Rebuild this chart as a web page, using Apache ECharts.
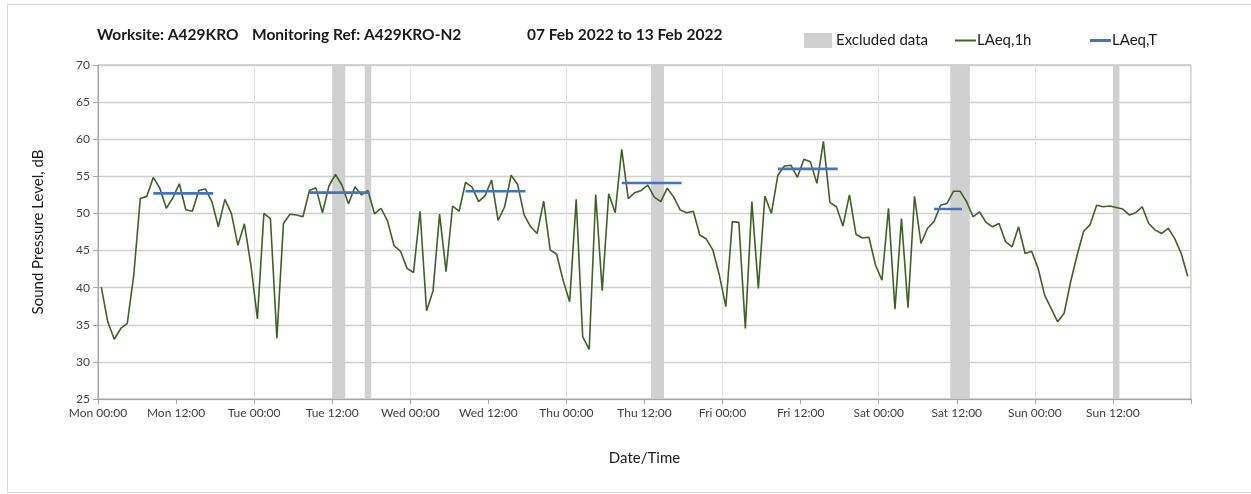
<!DOCTYPE html>
<html>
<head>
<meta charset="utf-8">
<script src="https://cdn.jsdelivr.net/npm/echarts@6/dist/echarts.min.js"></script>
<style>
  html, body { margin: 0; padding: 0; background: #ffffff; }
  #chart { width: 1251px; height: 494px; }
</style>
</head>
<body>
<div id="chart"></div>
<script>
// Day names used for the 12-hourly time labels (hours counted from Mon 00:00)
const dayNames = ['Mon', 'Tue', 'Wed', 'Thu', 'Fri', 'Sat', 'Sun'];

// Hourly LAeq,1h values (dB), one per hour starting Mon 00:00
const laeq1h = [
  40.1, 35.4, 33.05, 34.5, 35.2, 41.7, 52.0, 52.3, 54.85, 53.4, 50.7, 52.1,
  54.0, 50.5, 50.3, 53.1, 53.3, 51.6, 48.2, 51.9, 50.0, 45.7, 48.6, 43.05,
  35.8, 50.0, 49.3, 33.2, 48.65, 49.9, 49.8, 49.55, 53.1, 53.45, 50.1, 53.7,
  55.25, 53.8, 51.3, 53.6, 52.5, 53.1, 49.95, 50.7, 49.0, 45.65, 44.9, 42.6,
  42.05, 50.3, 36.9, 39.6, 49.9, 42.15, 51.0, 50.3, 54.2, 53.55, 51.6, 52.4,
  54.5, 49.05, 50.9, 55.15, 53.9, 49.8, 48.2, 47.3, 51.65, 45.1, 44.5, 40.95,
  38.1, 51.9, 33.4, 31.7, 52.55, 39.6, 52.65, 50.1, 58.65, 52.0, 52.8, 53.1,
  53.8, 52.2, 51.6, 53.4, 52.2, 50.45, 50.1, 50.3, 47.1, 46.55, 45.1, 41.7,
  37.45, 48.9, 48.8, 34.5, 51.6, 39.9, 52.35, 50.0, 55.15, 56.4, 56.5, 54.85,
  57.3, 56.95, 54.05, 59.7, 51.5, 50.9, 48.3, 52.5, 47.2, 46.7, 46.8, 43.05,
  41.0, 50.7, 37.1, 49.3, 37.3, 52.3, 45.95, 48.0, 48.9, 51.1, 51.35, 53.0,
  53.0, 51.6, 49.55, 50.2, 48.8, 48.2, 48.65, 46.2, 45.5, 48.2, 44.6, 44.9,
  42.6, 39.0, 37.2, 35.4, 36.55, 40.8, 44.4, 47.6, 48.5, 51.1, 50.9, 51.0,
  50.8, 50.6, 49.8, 50.1, 50.9, 48.65, 47.75, 47.3, 48.0, 46.6, 44.6, 41.5
];

// Period LAeq,T values (dB) with their start / end hours
const laeqTStart = [8.5, 32.5, 56.5, 80.5, 104.5, 128.5];
const laeqTEnd   = [17.7, 41.7, 65.7, 89.7, 113.7, 132.8];
const laeqT      = [52.7, 52.8, 53.0, 54.1, 56.0, 50.6];

// Excluded periods [start hour, end hour]
const excluded = [[36, 38], [41, 42], [85, 87], [131, 134], [156, 157]];

// Header parts
const titleParts = ['Worksite: A429KRO', 'Monitoring Ref: A429KRO-N2', '07 Feb 2022 to 13 Feb 2022'];
const titleLeft = [97, 252, 527];

const FONT = 'Lato, "Open Sans", sans-serif';

// Hourly points sit at the middle of each hour
const hourlyData = laeq1h.map((v, i) => [i + 0.5, v]);

// One broken line: each period drawn as its own segment
const periodData = [];
laeqT.forEach((v, k) => {
  periodData.push([laeqTStart[k], v], [laeqTEnd[k], v]);
  if (k < laeqT.length - 1) periodData.push([(laeqTEnd[k] + laeqTStart[k + 1]) / 2, '-']);
});

const excludedAreas = excluded.map(([a, b]) => [{ xAxis: a }, { xAxis: b }]);

function timeLabel(v) {
  if (v >= 168) return '';
  const day = dayNames[Math.floor(v / 24)];
  const hr = v % 24 === 0 ? '00:00' : '12:00';
  return day + ' ' + hr;
}

const chart = echarts.init(document.getElementById('chart'), null, { renderer: 'canvas' });

const legendText = { fontFamily: FONT, fontSize: 15, color: '#1a1a1a' };

chart.setOption({
  backgroundColor: '#ffffff',
  animation: false,
  title: titleParts.map((t, k) => ({
    text: t,
    left: titleLeft[k],
    top: 27,
    padding: 0,
    textStyle: { fontFamily: FONT, fontSize: 15.5, fontWeight: 'bold', color: '#1a1a1a' }
  })),
  legend: [
    {
      left: 799, top: 28,
      data: [{ name: 'Excluded data', icon: 'rect' }],
      itemWidth: 28, itemHeight: 15, itemGap: 0,
      textStyle: Object.assign({}, legendText, { padding: [0, 0, 0, -1] })
    },
    {
      left: 950, top: 28,
      data: [{ name: 'LAeq,1h', icon: 'rect' }],
      itemWidth: 21, itemHeight: 2,
      textStyle: Object.assign({}, legendText, { padding: [0, 0, 0, -4] })
    },
    {
      left: 1085, top: 28,
      data: [{ name: 'LAeq,T', icon: 'rect' }],
      itemWidth: 21, itemHeight: 3,
      textStyle: Object.assign({}, legendText, { padding: [0, 0, 0, -4] })
    }
  ],
  graphic: [{
    type: 'rect',
    shape: { x: 7.5, y: 4.5, width: 1250, height: 488 },
    style: { fill: 'none', stroke: '#d9d9d9', lineWidth: 1 },
    silent: true
  }],
  grid: {
    left: 98, right: 60, top: 65, bottom: 95,
    show: true, borderColor: '#a6a6a6', borderWidth: 1, backgroundColor: 'transparent'
  },
  xAxis: [
    {
      type: 'value', min: 0, max: 168, interval: 12,
      name: 'Date/Time', nameLocation: 'middle', nameGap: 52,
      nameTextStyle: { fontFamily: FONT, fontSize: 15, color: '#1a1a1a' },
      axisLine: { show: true, lineStyle: { color: '#a6a6a6', width: 1 } },
      axisTick: { show: true, length: 5, lineStyle: { color: '#a6a6a6' } },
      axisLabel: { formatter: timeLabel, fontFamily: FONT, fontSize: 12, color: '#404040', margin: 8 },
      splitLine: { show: false }
    },
    {
      // daily vertical grid lines
      type: 'value', min: 0, max: 168, interval: 24, gridIndex: 0, position: 'bottom',
      axisLine: { show: false }, axisTick: { show: false }, axisLabel: { show: false },
      splitLine: { show: true, lineStyle: { color: '#e3e3e3', width: 1 } }
    }
  ],
  yAxis: {
    type: 'value', min: 25, max: 70, interval: 5,
    name: 'Sound Pressure Level, dB', nameLocation: 'middle', nameGap: 52,
    nameTextStyle: { fontFamily: FONT, fontSize: 15, color: '#1a1a1a' },
    axisLine: { show: true, lineStyle: { color: '#a6a6a6', width: 1 } },
    axisTick: { show: true, length: 5, lineStyle: { color: '#a6a6a6' } },
    axisLabel: { fontFamily: FONT, fontSize: 12, color: '#404040', margin: 8 },
    splitLine: { show: true, lineStyle: { color: '#cfcfcf', width: 1.3 } }
  },
  series: [
    {
      name: 'Excluded data',
      type: 'line',
      data: [],
      color: '#d0d0d0',
      markArea: {
        silent: true,
        itemStyle: { color: '#d0d0d0' },
        data: excludedAreas
      },
      z: 1
    },
    {
      name: 'LAeq,1h',
      type: 'line',
      data: hourlyData,
      symbol: 'none',
      color: '#3f6126',
      lineStyle: { color: '#3f6126', width: 1.6 },
      z: 3
    },
    {
      name: 'LAeq,T',
      type: 'line',
      data: periodData,
      symbol: 'none',
      connectNulls: false,
      color: '#4472c4',
      lineStyle: { color: '#4472c4', width: 2.6 },
      z: 4
    }
  ]
});
</script>
</body>
</html>
